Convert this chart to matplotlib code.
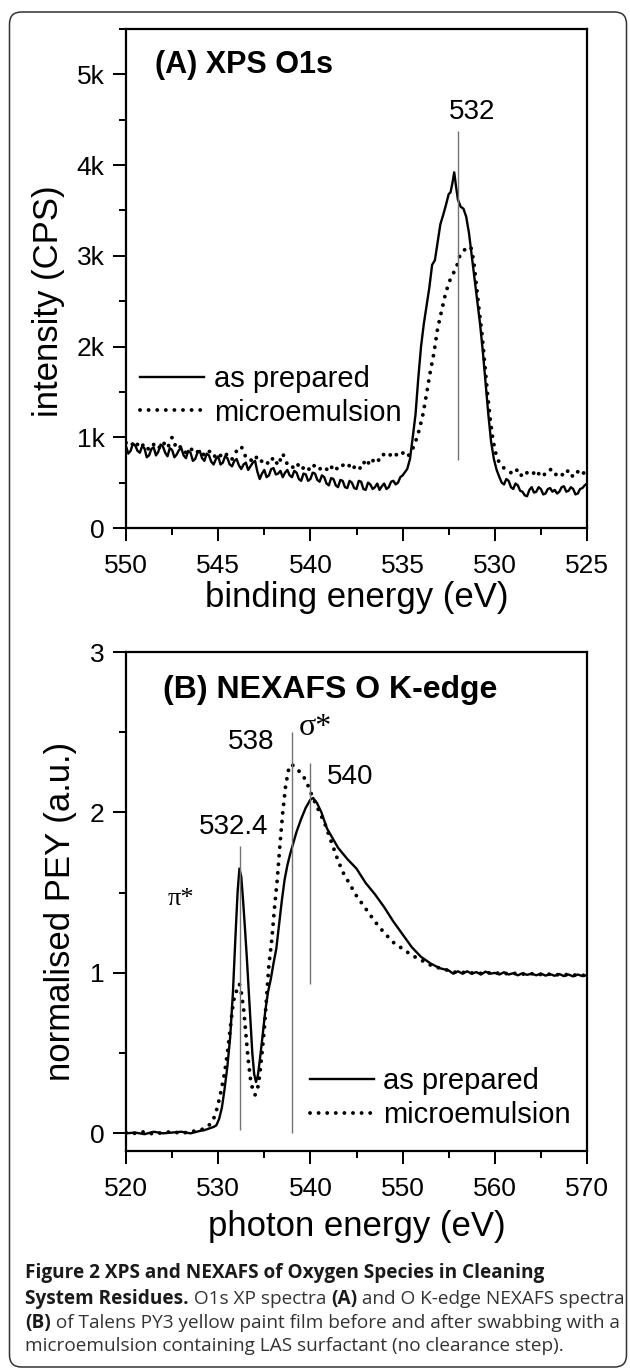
import matplotlib
matplotlib.use('Agg')
import matplotlib.pyplot as plt
from matplotlib.patches import FancyBboxPatch
from matplotlib.ticker import MultipleLocator, FixedLocator, FixedFormatter

# ---------------- Panel A: XPS O1s ----------------
xps_energy_prep = [
    550.0, 549.875, 549.75, 549.625, 549.5, 549.375, 549.25, 549.125, 549.0, 548.875,
    548.75, 548.625, 548.5, 548.375, 548.25, 548.125, 548.0, 547.875, 547.75, 547.625,
    547.5, 547.375, 547.25, 547.125, 547.0, 546.875, 546.75, 546.625, 546.5, 546.375,
    546.25, 546.125, 546.0, 545.875, 545.75, 545.625, 545.5, 545.375, 545.25, 545.125,
    545.0, 544.875, 544.75, 544.625, 544.5, 544.375, 544.25, 544.125, 544.0, 543.875,
    543.75, 543.625, 543.5, 543.375, 543.25, 543.125, 543.0, 542.875, 542.75, 542.625,
    542.5, 542.375, 542.25, 542.125, 542.0, 541.875, 541.75, 541.625, 541.5, 541.375,
    541.25, 541.125, 541.0, 540.875, 540.75, 540.625, 540.5, 540.375, 540.25, 540.125,
    540.0, 539.875, 539.75, 539.625, 539.5, 539.375, 539.25, 539.125, 539.0, 538.875,
    538.75, 538.625, 538.5, 538.375, 538.25, 538.125, 538.0, 537.875, 537.75, 537.625,
    537.5, 537.375, 537.25, 537.125, 537.0, 536.875, 536.75, 536.625, 536.5, 536.375,
    536.25, 536.125, 536.0, 535.875, 535.75, 535.625, 535.5, 535.375, 535.25, 535.125,
    535.0, 534.75, 534.6, 534.45, 534.3, 534.15, 534.0, 533.85, 533.7, 533.55,
    533.4, 533.25, 533.1, 532.95, 532.8, 532.65, 532.5, 532.4, 532.3, 532.2,
    532.1, 532.0, 531.85, 531.7, 531.55, 531.4, 531.25, 531.1, 530.95, 530.8,
    530.65, 530.5, 530.35, 530.2, 530.05, 529.9, 529.75, 529.625, 529.5, 529.375,
    529.25, 529.125, 529.0, 528.875, 528.75, 528.625, 528.5, 528.375, 528.25, 528.125,
    528.0, 527.875, 527.75, 527.625, 527.5, 527.375, 527.25, 527.125, 527.0, 526.875,
    526.75, 526.625, 526.5, 526.375, 526.25, 526.125, 526.0, 525.875, 525.75, 525.625,
    525.5, 525.375, 525.25, 525.125, 525.0]
xps_cps_prep = [
    900, 820, 850, 930, 910, 850, 830, 900, 880, 780,
    800, 870, 890, 800, 840, 920, 900, 830, 790, 880,
    860, 780, 810, 860, 880, 800, 770, 850, 830, 740,
    760, 830, 850, 770, 740, 820, 800, 730, 700, 760,
    790, 700, 720, 790, 770, 700, 680, 740, 760, 690,
    650, 700, 720, 640, 680, 720, 740, 620, 540, 600,
    640, 560, 580, 650, 660, 590, 600, 630, 560, 610,
    640, 580, 560, 630, 610, 540, 520, 600, 590, 520,
    540, 610, 600, 530, 510, 580, 560, 490, 470, 550,
    540, 470, 450, 530, 520, 450, 440, 520, 500, 440,
    430, 520, 510, 430, 420, 500, 480, 430, 450, 490,
    420, 460, 490, 430, 450, 510, 520, 480, 500, 560,
    580, 650, 760, 1000, 1250, 1650, 2000, 2250, 2450, 2650,
    2900, 2950, 3150, 3350, 3450, 3560, 3680, 3700, 3800, 3920,
    3760, 3620, 3540, 3520, 3430, 3250, 3000, 2750, 2500, 2250,
    1950, 1600, 1250, 950, 760, 640, 560, 500, 480, 540,
    520, 450, 430, 490, 470, 410, 400, 360, 350, 420,
    450, 390, 400, 450, 430, 370, 380, 430, 440, 400,
    420, 380, 400, 450, 460, 400, 410, 450, 430, 370,
    380, 430, 440, 470, 490]

xps_energy_micro = [
    550.0, 549.75, 549.5, 549.25, 549.0, 548.75, 548.5, 548.25, 548.0, 547.75,
    547.5, 547.25, 547.0, 546.75, 546.5, 546.25, 546.0, 545.75, 545.5, 545.25,
    545.0, 544.75, 544.5, 544.25, 544.0, 543.75, 543.5, 543.25, 543.0, 542.75,
    542.5, 542.25, 542.0, 541.75, 541.5, 541.25, 541.0, 540.75, 540.5, 540.25,
    540.0, 539.75, 539.5, 539.25, 539.0, 538.75, 538.5, 538.25, 538.0, 537.75,
    537.5, 537.25, 537.0, 536.75, 536.5, 536.25, 536.0, 535.75, 535.5, 535.25,
    535.0, 534.75, 534.5, 534.3, 534.1, 533.9, 533.7, 533.5, 533.3, 533.1,
    532.9, 532.7, 532.5, 532.3, 532.1, 531.9, 531.7, 531.5, 531.3, 531.15,
    531.0, 530.85, 530.7, 530.55, 530.4, 530.25, 530.1, 529.9, 529.7, 529.5,
    529.25, 529.0, 528.75, 528.5, 528.25, 528.0, 527.75, 527.5, 527.25, 527.0,
    526.75, 526.5, 526.25, 526.0, 525.75, 525.5, 525.25, 525.0]
xps_cps_micro = [
    940, 900, 960, 880, 930, 860, 920, 870, 950, 880,
    1000, 870, 900, 830, 880, 820, 860, 800, 850, 780,
    830, 770, 820, 760, 850, 900, 780, 740, 800, 720,
    760, 700, 780, 690, 820, 700, 660, 720, 640, 690,
    630, 700, 650, 680, 620, 700, 640, 690, 720, 640,
    700, 650, 760, 690, 780, 740, 820, 790, 840, 790,
    830, 780, 850, 950, 1080, 1250, 1480, 1720, 1930, 2200,
    2380, 2560, 2700, 2790, 2860, 3000, 3060, 3080, 3100, 2950,
    2680, 2400, 2150, 1820, 1490, 1200, 970, 780, 700, 660,
    630, 590, 650, 560, 610, 580, 640, 560, 600, 650,
    580, 620, 570, 640, 560, 620, 580, 680]

xps_xticks = [550, 545, 540, 535, 530, 525]
xps_yticks = [0, 1000, 2000, 3000, 4000, 5000]
xps_yticklabels = ['0', '1k', '2k', '3k', '4k', '5k']
xps_peak = 532

# ---------------- Panel B: NEXAFS O K-edge ----------------
nex_energy_prep = [
    520, 521, 522, 523, 524, 525, 526, 527, 528, 528.5,
    529, 529.5, 529.8, 530.1, 530.4, 530.7, 531.0, 531.3, 531.6, 531.85,
    532.1, 532.3, 532.5, 532.7, 532.9, 533.1, 533.3, 533.5, 533.7, 533.9,
    534.1, 534.3, 534.5, 534.8, 535.1, 535.4, 535.7, 536.0, 536.3, 536.6,
    536.9, 537.2, 537.5, 537.8, 538.1, 538.5, 539.0, 539.5, 540.0, 540.3,
    540.7, 541.2, 541.8, 542.5, 543.0, 544.0, 545.0, 546.0, 547.0, 548.0,
    549.0, 550.0, 551.0, 552.0, 553.0, 554.0, 555.0, 555.5, 556.0, 556.5,
    557, 557.5, 558, 558.5, 559, 559.5, 560, 560.5, 561, 561.5,
    562, 562.5, 563, 563.5, 564, 564.5, 565, 565.5, 566, 566.5,
    567, 567.5, 568, 568.5, 569, 569.5, 570]
nex_pey_prep = [
    0.00, 0.005, -0.005, 0.01, 0.0, 0.005, 0.01, 0.0, 0.015, 0.02,
    0.03, 0.04, 0.05, 0.09, 0.16, 0.28, 0.42, 0.60, 0.88, 1.20,
    1.50, 1.65, 1.60, 1.45, 1.28, 1.10, 0.90, 0.70, 0.50, 0.37,
    0.32, 0.36, 0.45, 0.60, 0.76, 0.88, 0.96, 1.06, 1.15, 1.30,
    1.45, 1.58, 1.67, 1.74, 1.80, 1.88, 1.96, 2.03, 2.08, 2.09,
    2.06, 2.00, 1.90, 1.83, 1.78, 1.71, 1.65, 1.56, 1.49, 1.41,
    1.32, 1.24, 1.16, 1.10, 1.06, 1.03, 1.015, 0.995, 1.01, 0.995,
    1.01, 0.995, 1.005, 0.99, 1.008, 0.995, 1.0, 0.99, 1.004, 0.99,
    0.998, 0.985, 0.998, 0.988, 0.995, 0.985, 0.996, 0.983, 0.992, 0.982,
    0.993, 0.98, 0.99, 0.978, 0.99, 0.98, 0.985]

nex_energy_micro = [
    520, 521, 522, 523, 524, 525, 526, 527, 528, 528.5,
    529.0, 529.5, 529.9, 530.3, 530.7, 531.0, 531.3, 531.6, 531.85, 532.1,
    532.3, 532.5, 532.75, 533.0, 533.25, 533.5, 533.75, 534.0, 534.25, 534.5,
    534.75, 535.0, 535.25, 535.5, 535.8, 536.1, 536.4, 536.7, 537.0, 537.3,
    537.6, 537.9, 538.2, 538.6, 539.0, 539.4, 539.8, 540.2, 540.6, 541.0,
    541.5, 542.0, 542.5, 543.0, 543.5, 544.0, 545.0, 546.0, 547.0, 548.0,
    549.0, 550.0, 551.0, 552.0, 553.0, 554.0, 555.0, 556.0, 557.0, 558.0,
    559, 560, 561, 562, 563, 564, 565, 566, 567, 568, 569, 570]
nex_pey_micro = [
    0.005, 0.0, 0.01, -0.005, 0.005, 0.01, 0.0, 0.01, 0.02, 0.03,
    0.05, 0.09, 0.16, 0.26, 0.38, 0.50, 0.65, 0.80, 0.88, 0.89,
    0.93, 0.88, 0.78, 0.62, 0.46, 0.34, 0.27, 0.24, 0.27, 0.36,
    0.50, 0.65, 0.85, 1.05, 1.20, 1.40, 1.58, 1.80, 2.00, 2.16,
    2.26, 2.30, 2.29, 2.27, 2.24, 2.21, 2.16, 2.10, 2.05, 2.00,
    1.94, 1.86, 1.78, 1.70, 1.63, 1.58, 1.48, 1.40, 1.32, 1.25,
    1.19, 1.15, 1.11, 1.08, 1.05, 1.03, 1.015, 1.0, 1.005, 0.995,
    1.0, 1.0, 0.995, 0.998, 0.992, 0.995, 0.99, 0.992, 0.988, 0.99, 0.985, 0.985]

nex_xticks = [520, 530, 540, 550, 560, 570]
nex_yticks = [0, 1, 2, 3]
nex_peaks = [532.4, 538, 540]
nex_peak_labels = ['532.4', '538', '540']

series_labels = ['as prepared', 'microemulsion']

caption_lines = [
    [("Figure 2 XPS and NEXAFS of Oxygen Species in Cleaning", 'bold')],
    [("System Residues.", 'bold'), (" O1s XP spectra ", 'normal'), ("(A)", 'bold'),
     (" and O K-edge NEXAFS spectra", 'normal')],
    [("(B)", 'bold'), (" of Talens PY3 yellow paint film before and after swabbing with a", 'normal')],
    [("microemulsion containing LAS surfactant (no clearance step).", 'normal')],
]

# ---------------- Figure ----------------
plt.rcParams['font.family'] = ['Liberation Sans', 'DejaVu Sans']
W, H = 630, 1369
fig = plt.figure(figsize=(W / 100, H / 100), dpi=100)


def px_axes(l, t, r, b):
    return [l / W, 1 - b / H, (r - l) / W, (b - t) / H]


axA = fig.add_axes(px_axes(126, 29, 587, 528))
axB = fig.add_axes(px_axes(126, 652, 587, 1151))

solid_kw = dict(color='black', lw=1.7, solid_joinstyle='round')
dot_kw = dict(color='black', lw=2.8, linestyle=(0, (0.01, 2.2)), dash_capstyle='round')
guide_kw = dict(color='0.45', lw=1.0)

for ax in (axA, axB):
    for s in ax.spines.values():
        s.set_linewidth(1.6)
    ax.tick_params(which='both', direction='out', width=1.45, top=False, right=False,
                   labelsize=19, colors='black')
    ax.tick_params(which='major', length=9.4)
    ax.tick_params(which='minor', length=4.7)
    ax.tick_params(axis='x', pad=9)
    ax.tick_params(axis='y', pad=6)

# Panel A
axA.plot(xps_energy_prep, xps_cps_prep, label=series_labels[0], **solid_kw)
axA.plot(xps_energy_micro, xps_cps_micro, label=series_labels[1], **dot_kw)
axA.set_xlim(550, 525)
axA.set_ylim(0, 5500)
axA.xaxis.set_major_locator(FixedLocator(xps_xticks))
axA.xaxis.set_minor_locator(MultipleLocator(2.5))
axA.yaxis.set_major_locator(FixedLocator(xps_yticks))
axA.yaxis.set_major_formatter(FixedFormatter(xps_yticklabels))
axA.yaxis.set_minor_locator(MultipleLocator(500))
axA.vlines(xps_peak, 750, 4380, **guide_kw)
axA.text(531.25, 4590, str(xps_peak), ha='center', va='center', fontsize=20)
axA.text(0.063, 0.928, '(A) XPS O1s', transform=axA.transAxes, fontsize=22,
         fontweight='bold', ha='left', va='center')
axA.set_xlabel('binding energy (eV)', fontsize=25)
axA.set_ylabel('intensity (CPS)', fontsize=25)
axA.xaxis.set_label_coords(0.5, -0.140)
axA.xaxis.label.set_va('center')
axA.yaxis.set_label_coords(-0.169, 0.455)
axA.yaxis.label.set_va('center')
axA.legend(loc='upper left', bbox_to_anchor=(0.030, 0.327), frameon=False,
           fontsize=21, handlelength=2.2, handletextpad=0.35, labelspacing=0.2,
           borderpad=0, borderaxespad=0)

# Panel B
axB.plot(nex_energy_prep, nex_pey_prep, label=series_labels[0], **solid_kw)
axB.plot(nex_energy_micro, nex_pey_micro, label=series_labels[1], **dot_kw)
axB.set_xlim(520, 570)
axB.set_ylim(-0.11, 3)
axB.xaxis.set_major_locator(FixedLocator(nex_xticks))
axB.xaxis.set_minor_locator(MultipleLocator(5))
axB.yaxis.set_major_locator(FixedLocator(nex_yticks))
axB.yaxis.set_minor_locator(MultipleLocator(0.5))
axB.vlines(nex_peaks[0], 0.02, 1.79, **guide_kw)
axB.vlines(nex_peaks[1], 0.0, 2.5, **guide_kw)
axB.vlines(nex_peaks[2], 0.93, 2.31, **guide_kw)
axB.text(531.65, 1.91, nex_peak_labels[0], ha='center', va='center', fontsize=20)
axB.text(533.6, 2.44, nex_peak_labels[1], ha='center', va='center', fontsize=20)
axB.text(544.3, 2.22, nex_peak_labels[2], ha='center', va='center', fontsize=20)
axB.text(540.5, 2.53, 'σ*', ha='center', va='center', fontsize=23,
         family=['Liberation Serif', 'DejaVu Serif'])
axB.text(526.0, 1.46, 'π*', ha='center', va='center', fontsize=19,
         family=['Liberation Serif', 'DejaVu Serif'])
axB.text(0.080, 0.924, '(B) NEXAFS O K-edge', transform=axB.transAxes, fontsize=23,
         fontweight='bold', ha='left', va='center')
axB.set_xlabel('photon energy (eV)', fontsize=25)
axB.set_ylabel('normalised PEY (a.u.)', fontsize=25)
axB.xaxis.set_label_coords(0.5, -0.152)
axB.xaxis.label.set_va('center')
axB.yaxis.set_label_coords(-0.143, 0.481)
axB.yaxis.label.set_va('center')
axB.legend(loc='upper left', bbox_to_anchor=(0.399, 0.168), frameon=False,
           fontsize=21, handlelength=2.2, handletextpad=0.3, labelspacing=0.2,
           borderpad=0, borderaxespad=0)

# Border
fig.patches.append(FancyBboxPatch((0.095, 0.02), 6.17, 13.55,
                                  boxstyle='round,pad=0,rounding_size=0.12',
                                  transform=fig.dpi_scale_trans, fill=False,
                                  ec='#333333', lw=1.1))

# Caption
renderer = fig.canvas.get_renderer()
baselines = [1278, 1304, 1328, 1351]
for line, yb in zip(caption_lines, baselines):
    x = 25 / W
    for txt, wt in line:
        t = fig.text(x, 1 - yb / H, txt, fontsize=13.7, fontweight=wt,
                     family=['Open Sans', 'DejaVu Sans'],
                     color='#1a1a1a' if wt == 'bold' else '#333333',
                     ha='left', va='baseline')
        bb = t.get_window_extent(renderer)
        x = bb.x1 / W

fig.savefig('out.png', dpi=100)
